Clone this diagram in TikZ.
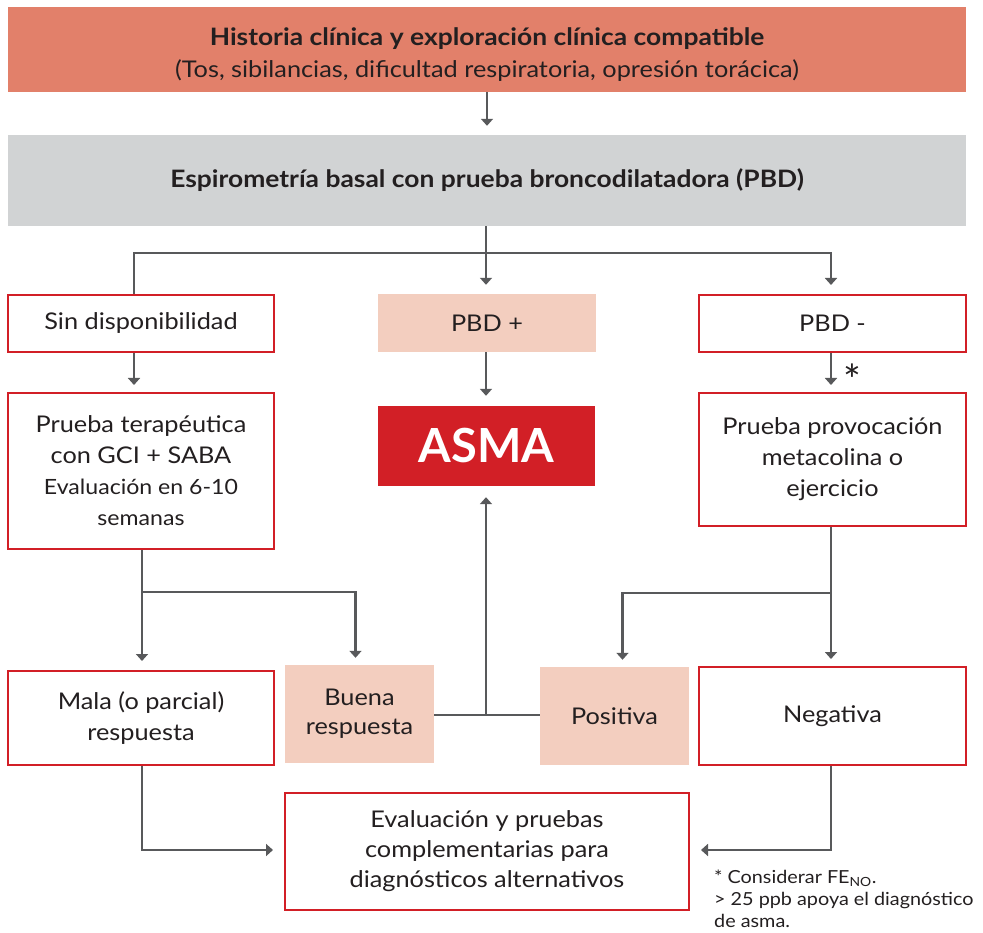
\documentclass[tikz,border=0pt]{standalone}
\usepackage{fontspec}
\setmainfont[FakeStretch=1.1]{Lato}
\newfontfamily\plainfont{Lato}
\usetikzlibrary{arrows.meta}
\definecolor{salmon}{HTML}{E2806A}
\definecolor{lgray}{HTML}{D1D3D4}
\definecolor{peach}{HTML}{F3CEBF}
\definecolor{asmared}{HTML}{D21F26}
\definecolor{linegray}{HTML}{58595B}
\definecolor{txt}{HTML}{231F20}
\tikzset{
  base/.style={rectangle, inner sep=0pt, align=center, text=txt, font=\fontsize{23}{31}\selectfont},
  redbox/.style={base, draw=asmared, line width=2pt, fill=white},
  peachbox/.style={base, fill=peach},
  conn/.style={draw=linegray, line width=2.5pt},
  arr/.style={conn, -{Triangle[width=12pt,length=7pt]}},
}
\begin{document}
\begin{tikzpicture}[x=1pt,y=-1pt]
\useasboundingbox (0,0) rectangle (983,933);
% top boxes
\node[base, fill=salmon, minimum width=958pt, minimum height=85pt] (hist) at (487,49.5) {};
\node[base, anchor=center] (histtext) at ([yshift=-5.5pt]hist.center)
  {{\fontsize{24}{33}\selectfont\bfseries Historia clínica y exploración clínica compatible}\\[1pt]
   {\fontsize{23}{26}\selectfont (Tos, sibilancias, dificultad respiratoria, opresión torácica)}};
\node[base, fill=lgray, minimum width=958pt, minimum height=91pt] (espiro) at (487,180.5)
  {\fontsize{24}{26}\selectfont\bfseries Espirometría basal con prueba broncodilatadora (PBD)};
% second row
\node[redbox, minimum width=266pt, minimum height=57pt] (sin) at (141,323.5) {Sin disponibilidad};
\node[peachbox, minimum width=218pt, minimum height=58pt] (pbdp) at (487,323) {PBD +};
\node[redbox, minimum width=267pt, minimum height=57pt] (pbdm) at (832.5,323.5) {PBD -};
% third row
\node[redbox, minimum width=266pt, minimum height=156pt] (terap) at (141,471)
  {Prueba terapéutica\\con GCI + SABA\\{\fontsize{21}{30}\selectfont Evaluación en 6-10}\\{\fontsize{21}{30}\selectfont semanas}};
\node[base, fill=asmared, minimum width=217pt, minimum height=80pt, text=white,
      font=\plainfont\fontsize{47}{50}\selectfont\bfseries] (asma) at (486.5,446) {ASMA};
\node[redbox, minimum width=267pt, minimum height=133pt] (prov) at (832.5,459.5)
  {Prueba provocación\\metacolina o\\ejercicio};
% fourth row
\node[redbox, minimum width=266pt, minimum height=94pt] (mala) at (141,718) {Mala (o parcial)\\respuesta};
\node[peachbox, minimum width=149pt, minimum height=98pt, font=\fontsize{23}{29}\selectfont] (buena) at (359.5,714) {Buena\\respuesta};
\node[peachbox, minimum width=149pt, minimum height=98pt] (positiva) at (614.5,716) {Positiva};
\node[redbox, minimum width=267pt, minimum height=98pt] (neg) at (832.5,716) {Negativa};
% bottom
\node[redbox, minimum width=404pt, minimum height=117pt, font=\fontsize{23}{30}\selectfont] (eval) at (487,851.5)
  {Evaluación y pruebas\\complementarias para\\diagnósticos alternativos};
\node[anchor=north west, align=left, inner sep=0pt, text=txt, font=\fontsize{18}{22}\selectfont] (nota) at (714,870)
  {* Considerar FE\textsubscript{NO}.\\> 25 ppb apoya el diagnóstico\\de asma.};
\node[text=txt, inner sep=0pt, font=\plainfont\fontsize{42}{42}\selectfont] (ast) at (852,380) {*};
% coordinates
\coordinate (split) at (486,253);
\coordinate (tsplit) at (142,592);
\coordinate (psplit) at (831,593);
\coordinate (mid) at (486,715);
% connectors
\draw[arr, shorten >=9pt] (hist.south) -- (espiro.north);
\draw[conn] (espiro.south -| split) -- (split);
\draw[conn] (split) -| ([xshift=-7pt]sin.north);
\draw[arr, shorten >=9pt] (split) -- (split |- pbdp.north);
\draw[arr, shorten >=9pt] (split) -| ([xshift=-1.5pt]pbdm.north);
\draw[arr, shorten >=7pt] ([xshift=-7pt]sin.south) -- ([xshift=-7pt]terap.north);
\draw[arr, shorten >=10pt] (split |- pbdp.south) -- (split |- asma.north);
\draw[arr, shorten >=7pt] ([xshift=-1.5pt]pbdm.south) -- ([xshift=-1.5pt]prov.north);
\draw[conn] (terap.south -| tsplit) -- (tsplit);
\draw[arr, shorten >=9pt] (tsplit) -- (tsplit |- mala.north);
\draw[arr, shorten >=7pt] (tsplit) -| ([xshift=-4pt]buena.north);
\draw[conn] (buena.east |- mid) -- (positiva.west |- mid);
\draw[arr, shorten >=11pt] (mid) -- (mid |- asma.south);
\draw[conn] (prov.south -| psplit) -- (psplit);
\draw[arr, shorten >=7pt] (psplit) -- (psplit |- neg.north);
\draw[arr, shorten >=7pt] (psplit) -| ([xshift=8pt]positiva.north);
\draw[arr, shorten >=11pt] ([xshift=1pt]mala.south) |- ([yshift=1.5pt]eval.west);
\draw[arr, shorten >=11pt] ([xshift=-1.5pt]neg.south) |- ([yshift=1.5pt]eval.east);
\end{tikzpicture}
\end{document}
